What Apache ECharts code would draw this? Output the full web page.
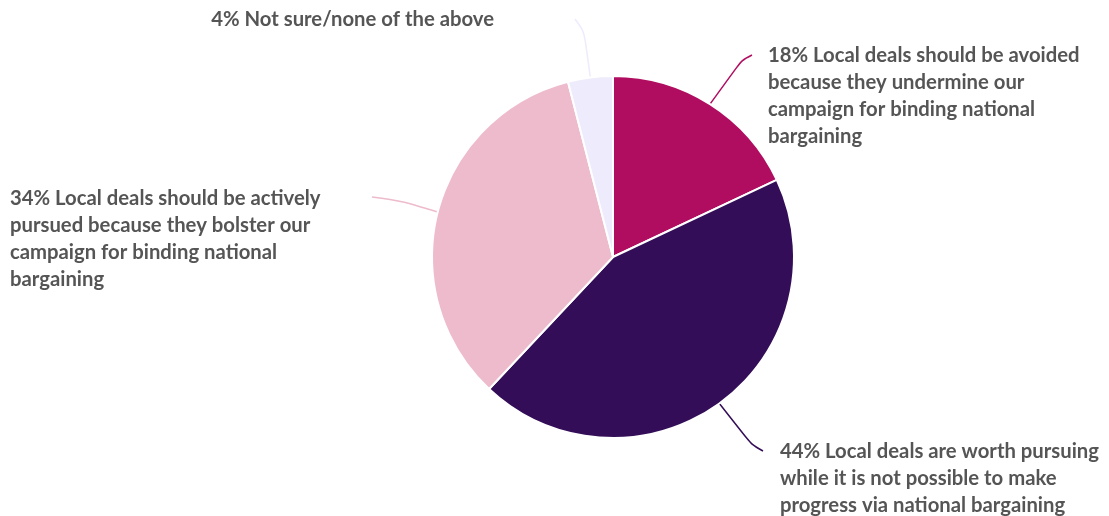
<!DOCTYPE html>
<html>
<head>
<meta charset="utf-8">
<script src="https://cdn.jsdelivr.net/npm/echarts@6/dist/echarts.min.js"></script>
<style>html,body{margin:0;padding:0;background:#fff;}#c{width:1109px;height:516px;}</style>
</head>
<body>
<div id="c"></div>
<script>
const categories = [
  "Local deals should be avoided\nbecause they undermine our\ncampaign for binding national\nbargaining",
  "Local deals are worth pursuing\nwhile it is not possible to make\nprogress via national bargaining",
  "Local deals should be actively\npursued because they bolster our\ncampaign for binding national\nbargaining",
  "Not sure/none of the above"
];
const values = [18, 44, 34, 4];
const colors = ["#B00D60", "#330D57", "#EDBBCC", "#EEEBFC"];

// label placement (layout, not data)
const labelPos = [
  {x: 768, y: 42, align: 'left',  end: [752, 55],  mid: [742, 60]},
  {x: 780, y: 438, align: 'left', end: [763, 451], mid: [752, 445]},
  {x: 10,  y: 185, align: 'left', end: [372, 197], mid: [402, 201]},
  {x: 494, y: 6,   align: 'right', end: [575, 19], mid: [584, 31]}
];

const chart = echarts.init(document.getElementById('c'));
chart.setOption({
  animation: false,
  backgroundColor: '#fff',
  series: [{
    type: 'pie',
    center: [613, 257],
    radius: [0, 181],
    startAngle: 90,
    clockwise: true,
    avoidLabelOverlap: false,
    data: categories.map((name, i) => ({
      name: name, value: values[i],
      itemStyle: {color: colors[i]},
      labelLine: {lineStyle: {color: colors[i]}}
    })),
    itemStyle: {borderColor: '#fff', borderWidth: 2},
    label: {
      show: true,
      position: 'outside',
      formatter: p => p.value + '% ' + p.name,
      fontFamily: 'Lato',
      fontWeight: 'bold',
      fontSize: 20.3,
      lineHeight: 27,
      color: '#555555'
    },
    labelLine: {show: true, smooth: 0.3, length: 20, length2: 20, lineStyle: {width: 1.5}},
    labelLayout: function (params) {
      const lp = labelPos[params.dataIndex];
      const start = params.labelLinePoints ? params.labelLinePoints[0] : lp.mid;
      return {
        x: lp.x, y: lp.y, align: lp.align, verticalAlign: 'top',
        labelLinePoints: [start, lp.mid, lp.end]
      };
    },
    emphasis: {disabled: true}
  }]
});
</script>
</body>
</html>
